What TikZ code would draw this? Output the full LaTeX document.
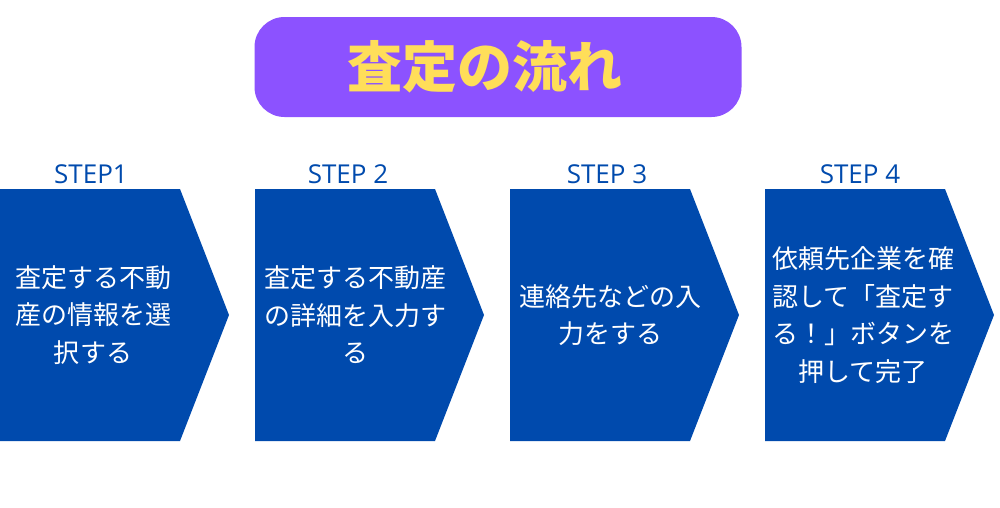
\documentclass[tikz,border=0pt]{standalone}
\usepackage{fontspec}
\newfontfamily\jpfont{Noto Sans CJK JP}
\newfontfamily\stepfont{Open Sans}
\usetikzlibrary{positioning}
\definecolor{stepblue}{HTML}{004AAD}
\definecolor{titlepurple}{HTML}{8C52FF}
\definecolor{titleyellow}{HTML}{FFDE59}
\tikzset{
  chevron/.style={fill=stepblue},
  titlebox/.style={fill=titlepurple, rounded corners=30pt, minimum width=487pt, minimum height=100pt, inner sep=0pt},
  titletext/.style={text=titleyellow, font=\jpfont\bfseries\fontsize{55}{60}\selectfont, inner sep=0pt},
  steplabel/.style={text=stepblue, font=\stepfont\fontsize{26}{30}\selectfont, inner sep=0pt, anchor=base},
  stepbody/.style={text=white, align=center, font=\jpfont\fontsize{26}{37.5}\selectfont, inner sep=0pt},
}

\begin{document}
\begin{tikzpicture}[x=1pt,y=-1pt]
  \useasboundingbox (0,0) rectangle (1000,507);

  % Title
  \node[titlebox] (title) at (498,67) {};
  \node[titletext] (titlelabel) at (485,67) {査定の流れ};

  % Arrow shapes
  \foreach \x in {0,255,510,765}{
    \fill[chevron, shift={(\x,0)}] (0,189) -- (180,189) -- (229,315) -- (180,441) -- (0,441) -- cycle;
  }

  % Step labels
  \node[steplabel] (S1) at (91,183) {STEP1};
  \node[steplabel] (S2) at (348,183) {STEP 2};
  \node[steplabel] (S3) at (607,183) {STEP 3};
  \node[steplabel] (S4) at (860,183) {STEP 4};

  % Step texts
  \node[stepbody] (B1) at (93,315) {査定する不動\\産の情報を選\\択する};
  \node[stepbody] (B2) at (355,315) {査定する不動産\\の詳細を入力す\\る};
  \node[stepbody] (B3) at (610,315) {連絡先などの入\\力をする};
  \node[stepbody] (B4) at (863,315) {依頼先企業を確\\認して「査定す\\る！」ボタンを\\押して完了};
\end{tikzpicture}
\end{document}
